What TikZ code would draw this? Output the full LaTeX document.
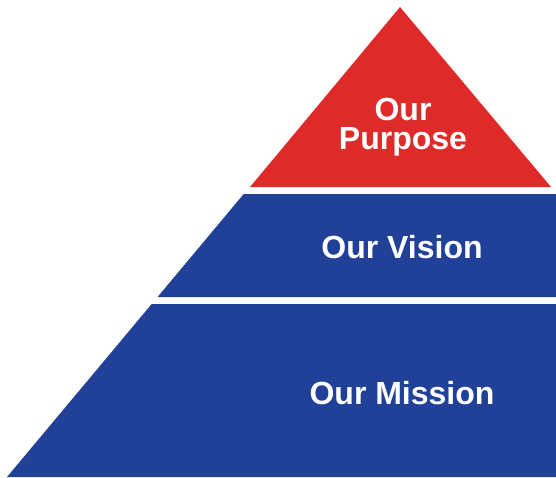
\documentclass[tikz,border=0pt]{standalone}
\usepackage{fontspec}
\setmainfont{Liberation Sans}
\usetikzlibrary{positioning}
\definecolor{flagred}{RGB}{222,43,42}
\definecolor{navy}{RGB}{33,64,152}

\begin{document}
\begin{tikzpicture}[x=1pt,y=-1pt,tier/.style={font=\bfseries\fontsize{32}{29}\selectfont,text=white,align=center,inner sep=0pt}]
\useasboundingbox (0,0) rectangle (556,477);
\clip (0,0) rectangle (556,477);
\fill[flagred] (400,7)--(250,187)--(551,187)--cycle;
\fill[navy] (243.7,194)--(560,194)--(560,297)--(157.6,297)--cycle;
\fill[navy] (151.7,304)--(560,304)--(560,477)--(7,477)--cycle;
\node[tier,anchor=base] (purpose) at (403,149) {Our\\Purpose};
\node[tier,anchor=base] (vision) at (402,258) {Our Vision};
\node[tier,anchor=base] (mission) at (402,404) {Our Mission};
\end{tikzpicture}
\end{document}
